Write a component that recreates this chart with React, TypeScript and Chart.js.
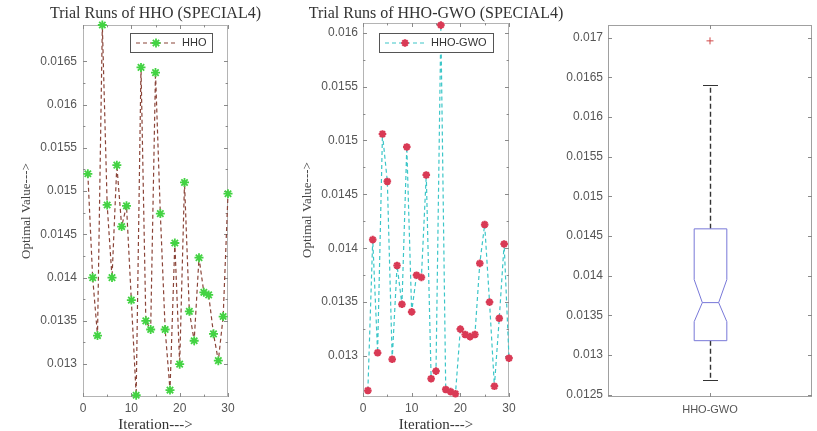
import React, { useEffect, useRef } from 'react';
import { Chart, registerables } from 'chart.js';

Chart.register(...registerables);

// ---------------- data ----------------
const iterations = [1, 2, 3, 4, 5, 6, 7, 8, 9, 10, 11, 12, 13, 14, 15, 16, 17, 18, 19, 20, 21, 22, 23, 24, 25, 26, 27, 28, 29, 30];

const hhoValues = [
  0.0152, 0.0140, 0.01333, 0.01692, 0.01484, 0.0140, 0.0153, 0.01459, 0.01483, 0.01374,
  0.01264, 0.01643, 0.0135, 0.0134, 0.01637, 0.01474, 0.0134, 0.0127, 0.0144, 0.0130,
  0.0151, 0.01361, 0.01327, 0.01423, 0.01383, 0.0138, 0.01335, 0.01304, 0.01355, 0.01497,
];

const hhoGwoValues = [
  0.01268, 0.01408, 0.01303, 0.01506, 0.01462, 0.01297, 0.01384, 0.01348, 0.01494, 0.01341,
  0.01375, 0.01373, 0.01468, 0.01279, 0.01286, 0.01607, 0.01269, 0.01267, 0.01265, 0.01325,
  0.0132, 0.01318, 0.0132, 0.01386, 0.01422, 0.0135, 0.01272, 0.01335, 0.01404, 0.01298,
];

const iterationTicks = [0, 10, 20, 30];
const iterationRange = [0, 30];
const hhoYTicks = [0.013, 0.0135, 0.014, 0.0145, 0.015, 0.0155, 0.016, 0.0165];
const hhoYRange = [0.01262, 0.01692];
const hhoGwoYTicks = [0.013, 0.0135, 0.014, 0.0145, 0.015, 0.0155, 0.016];
const hhoGwoYRange = [0.01262, 0.01609];

const boxCategories = ['HHO-GWO'];
const boxWhiskers = [0.01268, 0.0164]; // lower, upper
const boxQuartiles = [0.01318, 0.01366, 0.01459]; // q1, median, q3
const boxNotch = [0.01342, 0.01395]; // lower, upper
const boxOutliers = [0.01696];
const boxYTicks = [0.0125, 0.013, 0.0135, 0.014, 0.0145, 0.015, 0.0155, 0.016, 0.0165, 0.017];
const boxYRange = [0.01247, 0.01716];

// ---------------- styling helpers ----------------
const SERIF = '"Liberation Serif", "Times New Roman", serif';
const SANS = '"Liberation Sans", Arial, sans-serif';
const fmt = (v: any) => String(parseFloat(Number(v).toFixed(6)));

function drawStar(ctx: CanvasRenderingContext2D, x: number, y: number, r: number) {
  ctx.beginPath();
  for (let k = 0; k < 4; k++) {
    const ang = (k * Math.PI) / 4;
    ctx.moveTo(x - r * Math.cos(ang), y - r * Math.sin(ang));
    ctx.lineTo(x + r * Math.cos(ang), y + r * Math.sin(ang));
  }
  ctx.stroke();
}

// title centred over the plot area (MATLAB style), not clipped to it
const plotTitlePlugin = {
  id: 'plotTitle',
  afterDraw(chart: any, _args: any, opts: any) {
    if (!opts || !opts.text) return;
    const { ctx, chartArea: a } = chart;
    ctx.save();
    ctx.font = `${opts.size}px ${SERIF}`;
    ctx.fillStyle = opts.color || '#333';
    ctx.textAlign = 'center';
    ctx.textBaseline = 'middle';
    ctx.fillText(opts.text, (a.left + a.right) / 2, opts.y);
    ctx.restore();
  },
};

const framePlugin = {
  id: 'matlabFrame',
  beforeDatasetsDraw(chart: any, _args: any, opts: any) {
    const { ctx, chartArea: a } = chart;
    const xs = chart.scales.x;
    const ys = chart.scales.y;
    ctx.save();
    ctx.strokeStyle = opts.color || '#aaa';
    ctx.lineWidth = 1;
    ctx.strokeRect(
      Math.round(a.left) + 0.5,
      Math.round(a.top) + 0.5,
      Math.round(a.right - a.left) - 1,
      Math.round(a.bottom - a.top) - 1
    );
    const len = opts.tickLength ?? 4;
    const mlen = len * 0.6;
    ctx.strokeStyle = opts.tickColor || '#888';
    const ypix = ys.ticks.map((_t: any, i: number) => ys.getPixelForTick(i));
    const xpix = xs.ticks.map((_t: any, i: number) => xs.getPixelForTick(i));
    ctx.beginPath();
    const yMark = (p: number, l: number) => {
      const py = Math.round(p) + 0.5;
      ctx.moveTo(a.left, py); ctx.lineTo(a.left + l, py);
      ctx.moveTo(a.right, py); ctx.lineTo(a.right - l, py);
    };
    const xMark = (p: number, l: number) => {
      const px = Math.round(p) + 0.5;
      ctx.moveTo(px, a.bottom); ctx.lineTo(px, a.bottom - l);
      ctx.moveTo(px, a.top); ctx.lineTo(px, a.top + l);
    };
    ypix.forEach((p: number) => yMark(p, len));
    xpix.forEach((p: number) => xMark(p, len));
    if (opts.minor) {
      for (let i = 0; i < ypix.length - 1; i++) yMark((ypix[i] + ypix[i + 1]) / 2, mlen);
      for (let i = 0; i < xpix.length - 1; i++) xMark((xpix[i] + xpix[i + 1]) / 2, mlen);
    }
    ctx.stroke();
    ctx.restore();
  },
};

const legendPlugin = {
  id: 'matlabLegend',
  afterDatasetsDraw(chart: any, _args: any, opts: any) {
    if (!opts || !opts.show) return;
    const ds = chart.data.datasets[0];
    const { ctx, chartArea: a } = chart;
    ctx.save();
    ctx.font = `11px ${SANS}`;
    const tw = ctx.measureText(ds.label).width;
    const w = Math.round(52 + tw + 6);
    const h = 19;
    const right = Math.round(a.right - opts.offsetRight);
    const left = right - w;
    const top = Math.round(a.top + opts.offsetTop);
    ctx.fillStyle = '#fff';
    ctx.fillRect(left, top, w, h);
    ctx.strokeStyle = '#555';
    ctx.lineWidth = 1;
    ctx.strokeRect(left + 0.5, top + 0.5, w, h);
    const cy = top + h / 2 + 0.5;
    ctx.strokeStyle = ds.borderColor;
    ctx.lineWidth = ds.borderWidth;
    ctx.setLineDash(ds.borderDash);
    ctx.beginPath();
    ctx.moveTo(left + 6, cy);
    ctx.lineTo(left + 46, cy);
    ctx.stroke();
    ctx.setLineDash([]);
    ctx.strokeStyle = ds.pointBorderColor;
    ctx.lineWidth = ds.pointBorderWidth;
    drawStar(ctx, left + 26, cy, ds.pointRadius);
    ctx.fillStyle = '#333';
    ctx.textBaseline = 'middle';
    ctx.textAlign = 'left';
    ctx.fillText(ds.label, left + 52, cy);
    ctx.restore();
  },
};

const boxPlugin = {
  id: 'notchedBox',
  afterDatasetsDraw(chart: any, _args: any, opts: any) {
    if (!opts || !opts.show) return;
    const { ctx, chartArea: a } = chart;
    const xs = chart.scales.x;
    const ys = chart.scales.y;
    const y = (v: number) => ys.getPixelForValue(v);
    const cx = Math.round(xs.getPixelForValue(0)) + 0.5;
    const half = (a.right - a.left) * 0.08;
    const notchHalf = half * 0.5;
    const capHalf = 7.5;
    const [q1, med, q3] = boxQuartiles;
    const [nLo, nHi] = boxNotch;
    const [wLo, wHi] = boxWhiskers;
    ctx.save();
    // whiskers
    ctx.strokeStyle = '#333';
    ctx.lineWidth = 1.4;
    ctx.setLineDash([5, 3]);
    ctx.beginPath();
    ctx.moveTo(cx, y(q3)); ctx.lineTo(cx, y(wHi));
    ctx.moveTo(cx, y(q1)); ctx.lineTo(cx, y(wLo));
    ctx.stroke();
    ctx.setLineDash([]);
    ctx.lineWidth = 1;
    ctx.beginPath();
    ctx.moveTo(cx - capHalf, Math.round(y(wHi)) + 0.5); ctx.lineTo(cx + capHalf, Math.round(y(wHi)) + 0.5);
    ctx.moveTo(cx - capHalf, Math.round(y(wLo)) + 0.5); ctx.lineTo(cx + capHalf, Math.round(y(wLo)) + 0.5);
    ctx.stroke();
    // notched box
    ctx.strokeStyle = '#7878d8';
    ctx.lineWidth = 1;
    ctx.fillStyle = '#fff';
    ctx.beginPath();
    ctx.moveTo(cx - half, y(q1));
    ctx.lineTo(cx - half, y(nLo));
    ctx.lineTo(cx - notchHalf, y(med));
    ctx.lineTo(cx - half, y(nHi));
    ctx.lineTo(cx - half, y(q3));
    ctx.lineTo(cx + half, y(q3));
    ctx.lineTo(cx + half, y(nHi));
    ctx.lineTo(cx + notchHalf, y(med));
    ctx.lineTo(cx + half, y(nLo));
    ctx.lineTo(cx + half, y(q1));
    ctx.closePath();
    ctx.fill();
    ctx.stroke();
    // median
    ctx.beginPath();
    ctx.moveTo(cx - notchHalf, y(med));
    ctx.lineTo(cx + notchHalf, y(med));
    ctx.stroke();
    ctx.restore();
  },
};

// ---------------- configs ----------------
function seriesConfig(p: {
  label: string; values: number[]; yRange: number[]; yTicks: number[];
  title: string; lineColor: string; markerColor: string; markerWidth: number; markerRadius: number;
  padRight: number; padTop: number; yTitlePad: number; yTickPad: number; legendTop: number;
}) {
  return {
    type: 'line',
    data: {
      datasets: [
        {
          label: p.label,
          data: iterations.map((x, i) => ({ x, y: p.values[i] })),
          borderColor: p.lineColor,
          borderWidth: 1.2,
          borderDash: [4, 3],
          tension: 0,
          fill: false,
          pointStyle: 'star',
          pointRadius: p.markerRadius,
          pointBorderColor: p.markerColor,
          pointBackgroundColor: p.markerColor,
          pointBorderWidth: p.markerWidth,
          clip: false,
        },
      ],
    },
    plugins: [framePlugin, legendPlugin, plotTitlePlugin],
    options: {
      animation: false,
      responsive: false,
      devicePixelRatio: 1,
      events: [],
      layout: { padding: { left: 0, right: p.padRight, top: p.padTop, bottom: 0 } },
      plugins: {
        legend: { display: false },
        tooltip: { enabled: false },
        title: { display: false },
        plotTitle: { text: p.title, size: 16, y: 14, color: '#333' },
        matlabFrame: { color: '#b4b4b4', tickColor: '#8a8a8a', tickLength: 4, minor: true },
        matlabLegend: { show: true, offsetRight: 16, offsetTop: p.legendTop },
      },
      scales: {
        x: {
          type: 'linear',
          min: iterationRange[0],
          max: iterationRange[1],
          bounds: 'data',
          grid: { display: false, drawTicks: false },
          border: { display: false },
          afterBuildTicks: (s: any) => { s.ticks = iterationTicks.map((v) => ({ value: v })); },
          afterFit: (s: any) => { s.height = 34; },
          ticks: { color: '#555', font: { family: SANS, size: 12 }, padding: 4, autoSkip: false, maxRotation: 0, callback: fmt },
          title: {
            display: true,
            text: 'Iteration--->',
            color: '#333',
            font: { family: SERIF, size: 15, lineHeight: 0.8 },
            padding: 0,
          },
        },
        y: {
          type: 'linear',
          min: p.yRange[0],
          max: p.yRange[1],
          bounds: 'data',
          grid: { display: false, drawTicks: false },
          border: { display: false },
          afterBuildTicks: (s: any) => { s.ticks = p.yTicks.map((v) => ({ value: v })); },
          afterFit: (s: any) => { s.width = 83; },
          ticks: { color: '#555', font: { family: SANS, size: 12 }, padding: p.yTickPad, autoSkip: false, callback: fmt },
          title: {
            display: true,
            text: 'Optimal Value--->',
            color: '#444',
            font: { family: SERIF, size: 13, lineHeight: 1.2 },
            padding: { top: p.yTitlePad, bottom: 0 },
          },
        },
      },
    },
  };
}

const hhoConfig = seriesConfig({
  label: 'HHO', values: hhoValues, yRange: hhoYRange, yTicks: hhoYTicks,
  title: 'Trial Runs of HHO (SPECIAL4)', lineColor: '#8a4438', markerColor: '#43d343',
  markerWidth: 1.8, markerRadius: 4.5, padRight: 311 - 228, padTop: 25, yTitlePad: 19, yTickPad: 6, legendTop: 8,
});

const hhoGwoConfig = seriesConfig({
  label: 'HHO-GWO', values: hhoGwoValues, yRange: hhoGwoYRange, yTicks: hhoGwoYTicks,
  title: 'Trial Runs of HHO-GWO (SPECIAL4)', lineColor: '#3cc6c8', markerColor: '#d93a55',
  markerWidth: 2.2, markerRadius: 3.8, padRight: 312 - 229, padTop: 23, yTitlePad: 20, yTickPad: 5, legendTop: 10,
});

const boxConfig = {
  type: 'line',
  data: {
    labels: boxCategories,
    datasets: [
      {
        label: 'outliers',
        data: boxOutliers,
        showLine: false,
        pointStyle: 'cross',
        pointRadius: 3.5,
        pointBorderColor: '#d04848',
        pointBorderWidth: 1,
        clip: false,
      },
    ],
  },
  plugins: [framePlugin, boxPlugin],
  options: {
    animation: false,
    responsive: false,
    devicePixelRatio: 1,
    events: [],
    layout: { padding: { left: 0, right: 2, top: 25, bottom: 0 } },
    plugins: {
      legend: { display: false },
      tooltip: { enabled: false },
      matlabFrame: { color: '#a0a0a0', tickColor: '#8a8a8a', tickLength: 4, minor: false },
      notchedBox: { show: true },
    },
    scales: {
      x: {
        type: 'category',
        offset: true,
        grid: { display: false, drawTicks: false },
        border: { display: false },
        afterFit: (s: any) => { s.height = 34; },
        ticks: { color: '#555', font: { family: SANS, size: 11 }, padding: 6, maxRotation: 0 },
      },
      y: {
        type: 'linear',
        min: boxYRange[0],
        max: boxYRange[1],
        bounds: 'data',
        grid: { display: false, drawTicks: false },
        border: { display: false },
        afterBuildTicks: (s: any) => { s.ticks = boxYTicks.map((v) => ({ value: v })); },
        afterFit: (s: any) => { s.width = 68; },
        ticks: { color: '#555', font: { family: SANS, size: 12 }, padding: 5, autoSkip: false, callback: fmt },
      },
    },
  },
};

// ---------------- components ----------------
function ChartCanvas({ left, width, config }: { left: number; width: number; config: any }) {
  const ref = useRef<HTMLCanvasElement | null>(null);
  useEffect(() => {
    if (!ref.current) return;
    const chart = new Chart(ref.current, config);
    return () => chart.destroy();
  }, [config]);
  return (
    <canvas
      ref={ref}
      width={width}
      height={431}
      style={{ position: 'absolute', left, top: 0, width, height: 431 }}
    />
  );
}

export default function App() {
  return (
    <div
      style={{
        position: 'absolute',
        left: 0,
        top: 0,
        width: 817,
        height: 431,
        background: '#fff',
        overflow: 'hidden',
      }}
    >
      <ChartCanvas left={0} width={311} config={hhoConfig} />
      <ChartCanvas left={280} width={312} config={hhoGwoConfig} />
      <ChartCanvas left={540} width={277} config={boxConfig} />
    </div>
  );
}
